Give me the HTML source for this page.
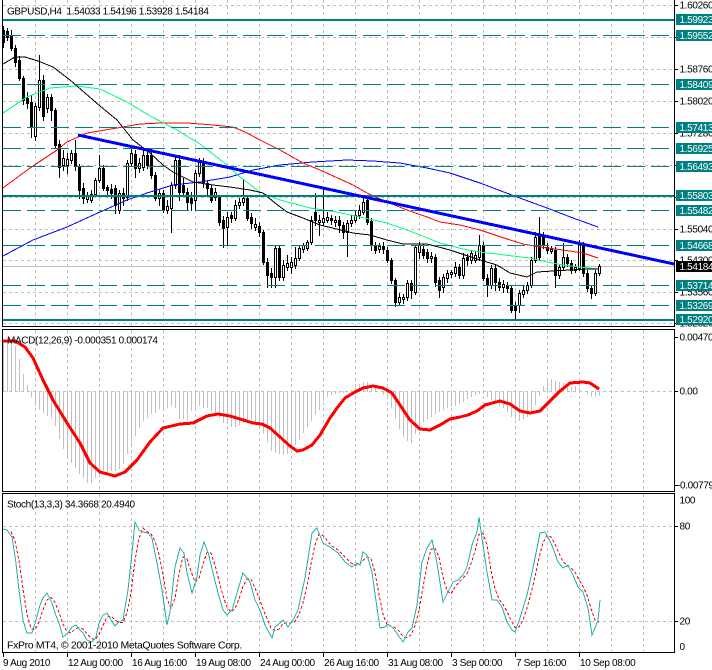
<!DOCTYPE html>
<html><head><meta charset="utf-8">
<style>
html,body{margin:0;padding:0;background:#fff}
body{width:712px;height:670px;overflow:hidden}
svg{display:block}
text{font-family:"Liberation Sans",Arial,sans-serif;font-size:10px;letter-spacing:-0.35px;fill:#000}
text.w{fill:#fff}
text.big{font-size:10.5px}
</style></head><body>
<svg id="s" width="712" height="670" viewBox="0 0 712 670" xmlns="http://www.w3.org/2000/svg">
<rect width="712" height="670" fill="#fff"/>
<g id="grid" fill="none" stroke="#c0c0c0" stroke-width="1" stroke-dasharray="3,3" shape-rendering="crispEdges"></g>
<g id="bid" shape-rendering="crispEdges"><line x1="3" y1="266.5" x2="674" y2="266.5" stroke="#c0c0c0"/></g>
<g id="cand" shape-rendering="crispEdges"></g>
<g id="ma" fill="none" stroke-width="1" shape-rendering="crispEdges"></g>
<g id="obj" shape-rendering="crispEdges"></g>
<g id="macd" shape-rendering="crispEdges"></g>
<g id="sto" fill="none" shape-rendering="crispEdges"></g>
<g id="frame" fill="none" stroke="#000" stroke-width="1" shape-rendering="crispEdges">
 <path d="M2.5 0V326.5H674.5V0"/>
 <rect x="2.5" y="329.5" width="672" height="162"/>
 <rect x="2.5" y="493.5" width="672" height="159"/>
 <path d="M675 5.5h3M675 37.5h3M675 69.5h3M675 101.5h3M675 133.5h3M675 165.5h3M675 197.5h3M675 229.5h3M675 260.5h3M675 292.5h3M675 323.5h3M675 337.5h3M675 391.5h3M675 485.5h3M675 526.5h3M675 621.5h3"/>
 <path d="M3.5 653v4M67.5 653v4M131.5 653v4M195.5 653v4M259.5 653v4M323.5 653v4M387.5 653v4M451.5 653v4M515.5 653v4M579.5 653v4"/>
</g>

<!-- axis labels main -->
<text x="679.5" y="8.5">1.60260</text>
<text x="679.5" y="40.5">1.59510</text>
<text x="679.5" y="72.5">1.58760</text>
<text x="679.5" y="104.5">1.58020</text>
<text x="679.5" y="136.5">1.57280</text>
<text x="679.5" y="168.5">1.56540</text>
<text x="679.5" y="200.5">1.55800</text>
<text x="679.5" y="232.5">1.55040</text>
<text x="679.5" y="263.5">1.54300</text>
<text x="679.5" y="295.5">1.53560</text>
<text x="679.5" y="326.5">1.52820</text>

<!-- level label boxes -->
<g shape-rendering="crispEdges">
<rect x="676" y="14" width="36" height="11" fill="#008080"/>
<rect x="676" y="30" width="36" height="11" fill="#008080"/>
<rect x="676" y="79" width="36" height="11" fill="#008080"/>
<rect x="676" y="122" width="36" height="11" fill="#008080"/>
<rect x="676" y="143" width="36" height="11" fill="#008080"/>
<rect x="676" y="161" width="36" height="11" fill="#008080"/>
<rect x="676" y="190" width="36" height="11" fill="#008080"/>
<rect x="676" y="205" width="36" height="11" fill="#008080"/>
<rect x="676" y="240" width="36" height="11" fill="#008080"/>
<rect x="676" y="261" width="36" height="11" fill="#000"/>
<rect x="676" y="280" width="36" height="11" fill="#008080"/>
<rect x="676" y="300" width="36" height="11" fill="#008080"/>
<rect x="676" y="314" width="36" height="11" fill="#008080"/>
</g>
<text class="w" x="679.5" y="23">1.59923</text>
<text class="w" x="679.5" y="39">1.59552</text>
<text class="w" x="679.5" y="88">1.58409</text>
<text class="w" x="679.5" y="131">1.57413</text>
<text class="w" x="679.5" y="152">1.56925</text>
<text class="w" x="679.5" y="170">1.56493</text>
<text class="w" x="679.5" y="199">1.55803</text>
<text class="w" x="679.5" y="214">1.55482</text>
<text class="w" x="679.5" y="249">1.54668</text>
<text class="w" x="679.5" y="270">1.54184</text>
<text class="w" x="679.5" y="289">1.53714</text>
<text class="w" x="679.5" y="309">1.53269</text>
<text class="w" x="679.5" y="323">1.52920</text>

<!-- MACD axis -->
<text x="679.5" y="340.5">0.004700</text>
<text x="679.5" y="394.5">0.00</text>
<text x="677" y="488.5">-0.007795</text>
<!-- Stoch axis -->
<text x="679.5" y="503.5">100</text>
<text x="679.5" y="529.5">80</text>
<text x="679.5" y="624.5">20</text>
<text x="679.5" y="650">0</text>

<!-- pane titles -->
<text x="7" y="14.5" style="white-space:pre">GBPUSD,H4  1.54033 1.54196 1.53928 1.54184</text>
<text x="7" y="343.5">MACD(12,26,9) -0.000351 0.000174</text>
<text x="7" y="507.5">Stoch(13,3,3) 34.3668 20.4940</text>
<text class="big" x="7" y="648.5">FxPro MT4, © 2001-2010 MetaQuotes Software Corp.</text>

<!-- time axis -->
<text x="3" y="666">9 Aug 2010</text>
<text x="68" y="666">12 Aug 00:00</text>
<text x="132" y="666">16 Aug 16:00</text>
<text x="196" y="666">19 Aug 08:00</text>
<text x="260" y="666">24 Aug 00:00</text>
<text x="324" y="666">26 Aug 16:00</text>
<text x="388" y="666">31 Aug 08:00</text>
<text x="452" y="666">3 Sep 00:00</text>
<text x="516" y="666">7 Sep 16:00</text>
<text x="580" y="666">10 Sep 08:00</text>
</svg>
<script>
(function(){
const NS='http://www.w3.org/2000/svg';
function E(p,t,a){const e=document.createElementNS(NS,t);for(const k in a)e.setAttribute(k,a[k]);p.appendChild(e);return e;}
const G=id=>document.getElementById(id);
function interp(P,x){if(x<=P[0][0])return P[0][1];for(let i=1;i<P.length;i++){if(x<=P[i][0]){const a=P[i-1],b=P[i];return a[1]+(b[1]-a[1])*(x-a[0])/(b[0]-a[0]);}}return P[P.length-1][1];}
const pts=P=>P.map(p=>p[0]+','+p[1]).join(' ');

// grid
let d='';
for(let k=1;k<=20;k++){const x=3.5+32*k;d+=`M${x} 0V326M${x} 330V491M${x} 494V652`;}
[5,37,69,101,133,165,197,229,260,292,323].forEach(y=>d+=`M3 ${y+.5}H674`);
d+='M3 391.5H674M3 526.5H674M3 621.5H674';
E(G('grid'),'path',{d:d});

// candles [o,c,h,l]
const C=[[30,42,26,47],[31,37,28,40],[35,48,30,50],[48,62,45,66],[60,78,56,80],[78,100,76,104],[98,103,92,108],[102,127,95,137],[136,106,103,140],[107,80,55,110],
[80,116,75,120],[108,97,94,112],[97,110,94,120],[110,145,108,148],[144,167,140,177],[165,158,150,170],[165,159,153,173],[160,153,150,163],[153,166,140,170],[166,190,164,198],
[188,198,183,203],[199,196,192,202],[200,194,190,202],[194,180,178,196],[180,168,155,182],[168,188,165,190],[187,190,185,195],[189,193,184,198],[188,205,185,213],[210,193,190,213],
[193,198,188,205],[197,163,160,200],[163,153,148,166],[154,168,150,177],[168,163,158,172],[167,155,148,170],[155,165,150,168],[155,175,148,178],[175,198,172,200],[198,193,190,205],
[193,210,190,212],[210,206,200,213],[208,185,182,232],[185,160,155,188],[160,192,155,200],[185,192,178,195],[192,202,188,210],[198,203,192,210],[200,173,170,210],[173,162,158,176],
[162,182,158,187],[183,188,180,196],[188,200,185,202],[197,192,188,200],[197,222,195,225],[220,228,216,247],[227,217,212,245],[215,218,212,222],[218,205,200,220],[205,202,198,208],
[202,198,180,205],[198,218,195,220],[217,223,213,228],[227,224,218,230],[226,232,222,236],[232,262,230,264],[262,275,258,287],[273,277,268,287],[277,248,246,287],[248,277,245,280],
[277,265,260,280],[267,263,255,270],[267,262,257,273],[265,258,247,268],[258,248,245,260],[249,245,243,252],[248,242,240,250],[242,220,216,244],[212,220,193,225],[222,220,215,235],
[222,218,188,225],[220,217,212,222],[218,220,215,224],[222,220,216,226],[220,225,216,232],[225,232,222,238],[232,223,220,256],[223,220,215,226],[220,215,210,222],[215,210,205,218],
[212,202,198,214],[200,222,197,224],[221,245,218,250],[245,250,242,253],[249,246,243,252],[246,249,242,253],[250,260,247,262],[260,280,258,283],[280,302,278,306],[302,297,293,305],
[299,297,294,303],[297,283,280,300],[283,290,280,298],[292,247,245,294],[252,245,242,258],[249,255,244,258],[252,258,249,262],[258,256,252,262],[257,282,254,286],[280,290,277,297],
[287,277,274,292],[278,273,270,282],[274,272,270,277],[273,267,262,276],[267,275,264,278],[275,258,253,278],[257,260,254,265],[260,253,250,263],[260,255,251,262],[257,245,235,260],
[245,278,242,280],[278,285,274,296],[285,268,265,288],[268,282,265,290],[282,287,278,290],[287,284,280,292],[285,288,282,292],[288,310,285,312],[305,310,302,318],[305,293,290,312],
[294,290,286,297],[290,285,282,293],[285,260,257,287],[260,237,232,262],[236,257,217,260],[235,245,232,248],[247,250,243,253],[251,249,246,253],[250,275,247,287],[275,267,264,278],
[267,257,243,270],[257,263,254,266],[263,270,260,273],[270,267,264,272],[268,245,240,270],[245,273,242,276],[273,288,270,291],[288,293,286,298],[293,273,270,295],[273,266,264,275]];
const gc=G('cand');
C.forEach((b,i)=>{const x=3+4*i;const o=b[0],c=b[1],h=b[2],l=b[3];
 E(gc,'line',{x1:x+.5,y1:h,x2:x+.5,y2:l+1,stroke:'#000'});
 const t=Math.min(o,c),bt=Math.max(o,c);
 E(gc,'rect',{x:x-1,y:t,width:3,height:Math.max(1,bt-t+1),fill:'#000'});
 if(c<o&&bt-t>=2)E(gc,'rect',{x:x,y:t+1,width:1,height:bt-t-1,fill:'#fff'});
});

// moving averages
const blue=[[3,256],[33,240],[67,227],[100,212],[127,200],[147,193],[173,185],[200,182],[230,177],[253,170],[280,165],[313,162],[347,160],[373,161],[400,163],[427,168],[450,173],[480,183],[517,197],[547,208],[573,218],[598,227]];
const red=[[3,188],[30,168],[57,150],[67,142],[87,133],[117,128],[140,124],[160,123],[187,123],[213,125],[233,127],[245,132],[260,140],[280,150],[303,163],[320,170],[353,185],[367,193],[387,202],[407,210],[427,217],[440,222],[460,225],[480,230],[507,239],[523,244],[540,247],[563,250],[583,253],[598,258]];
const green=[[3,113],[27,97],[50,88],[77,86],[100,89],[127,102],[150,116],[177,130],[200,144],[227,165],[240,177],[260,192],[280,200],[310,208],[337,212],[360,217],[387,223],[407,230],[420,235],[440,243],[463,249],[480,252],[497,254],[513,256],[530,258],[547,262],[563,265],[580,267],[598,269]];
const black=[[3,64],[15,57],[25,57],[38,61],[53,67],[70,80],[85,93],[100,106],[117,120],[133,140],[150,153],[163,165],[173,172],[193,182],[213,185],[230,187],[250,190],[263,193],[275,203],[287,212],[303,218],[320,225],[353,233],[370,235],[387,240],[403,244],[427,244],[450,250],[465,255],[480,260],[497,265],[510,273],[527,277],[537,272],[553,271],[570,270],[587,269],[598,269]];
const gm=G('ma');
[['#0000ff',blue],['#ff0000',red],['#00ff7f',green],['#000000',black]].forEach(m=>E(gm,'polyline',{points:pts(m[1]),stroke:m[0]}));

// objects: level lines + trendline
const go=G('obj');
[35,84,127,148,166,210,245,285,305].forEach(y=>E(go,'line',{x1:3,y1:y+.5,x2:674,y2:y+.5,stroke:'#008080','stroke-dasharray':'18,6'}));
[19,195,319].forEach(y=>E(go,'rect',{x:3,y:y,width:671,height:2,fill:'#008080'}));
E(go,'line',{x1:78,y1:135,x2:674,y2:264,stroke:'#0000ff','stroke-width':3});

// MACD
const H=[[3,340],[7,340],[12,343],[16,347],[20,363],[24,377],[28,387],[32,399],[36,407],[40,410],[44,412],[47,415],[52,417],[56,427],[59,438],[63,448],[68,457],[72,463],[76,468],[79,473],[83,477],[87,482],[91,482],[95,477],[99,473],[103,470],[107,472],[112,470],[115,470],[119,468],[123,463],[127,453],[131,445],[135,435],[139,427],[143,420],[147,417],[151,413],[155,412],[159,408],[163,407],[167,407],[171,405],[175,407],[179,418],[183,418],[187,420],[191,410],[195,408],[199,405],[203,407],[207,407],[211,410],[215,415],[219,417],[223,422],[227,423],[232,427],[236,425],[240,423],[244,422],[248,420],[252,419],[256,423],[260,427],[264,435],[268,443],[272,452],[276,452],[280,453],[284,454],[288,452],[292,447],[296,443],[300,438],[304,430],[308,425],[312,418],[316,413],[320,407],[324,398],[328,395],[332,393],[336,393],[340,392],[344,392],[348,391],[352,390],[356,387],[360,383],[364,381],[368,382],[372,387],[376,388],[380,392],[384,395],[388,398],[392,410],[396,420],[400,430],[404,438],[408,440],[412,442],[416,430],[420,423],[424,420],[428,417],[432,415],[436,412],[440,410],[444,408],[448,407],[452,405],[456,405],[460,402],[464,400],[468,397],[472,395],[476,393],[480,393],[484,393],[488,397],[492,400],[496,403],[500,405],[504,408],[508,412],[512,417],[516,418],[520,420],[524,417],[528,415],[532,410],[536,402],[540,392],[544,384],[548,380],[552,379],[556,381],[560,382],[564,383],[568,388],[572,387],[576,386],[580,389],[584,391],[588,393],[592,397],[596,395],[600,395]];
const M=[[3,341],[15,341],[25,347],[33,358],[43,380],[53,400],[67,423],[80,443],[90,463],[100,472],[115,476],[125,472],[137,460],[150,442],[163,428],[180,424],[193,423],[207,416],[218,414],[230,416],[240,419],[253,423],[262,424],[270,428],[280,437],[290,446],[297,451],[303,450],[312,445],[320,435],[330,418],[337,408],[345,398],[355,392],[363,388],[373,386],[383,388],[392,393],[400,405],[410,420],[420,429],[430,430],[440,425],[450,419],[460,417],[468,415],[477,411],[485,405],[500,401],[510,404],[520,411],[530,413],[540,411],[550,401],[560,391],[570,383],[583,382],[590,383],[599,389]];
const gmd=G('macd');
let hd='';for(let i=0;i<150;i++){const x=3+4*i;const y=Math.round(interp(H,x));if(y!==391)hd+=`M${x+.5} ${y>391?391:392}V${y>391?y+1:y}`;}
E(gmd,'path',{d:hd,stroke:'#c0c0c0','stroke-width':1,fill:'none'});
E(gmd,'polyline',{points:pts(M),stroke:'#ff0000','stroke-width':3,fill:'none','stroke-linejoin':'round'});

// Stochastic
const S=[[3,529],[7,530],[12,537],[16,563],[19,590],[23,620],[27,633],[32,633],[36,620],[40,605],[43,598],[47,593],[52,603],[55,613],[59,623],[63,637],[68,633],[72,627],[76,625],[80,630],[83,633],[87,640],[92,642],[96,637],[99,623],[103,615],[107,613],[111,620],[115,626],[119,622],[123,620],[128,590],[132,553],[135,522],[139,530],[143,532],[148,533],[152,538],[157,563],[162,590],[167,625],[170,612],[175,567],[180,548],[184,553],[187,573],[192,593],[197,577],[200,555],[204,542],[208,552],[213,573],[218,593],[223,610],[227,615],[232,610],[237,593],[243,573],[250,582],[255,600],[260,610],[265,625],[272,638],[275,627],[280,623],[283,620],[288,627],[293,620],[298,610],[305,578],[312,533],[317,528],[323,543],[330,547],[338,553],[345,562],[352,567],[357,563],[360,565],[363,552],[367,555],[372,572],[377,608],[380,628],[385,627],[388,624],[393,628],[398,635],[403,642],[408,632],[412,628],[417,605],[422,562],[427,548],[432,540],[437,563],[443,602],[448,592],[453,582],[458,580],[463,575],[467,567],[472,545],[477,532],[479,517],[483,545],[487,572],[492,600],[497,600],[502,607],[507,622],[512,630],[515,632],[520,618],[527,595],[533,568],[540,533],[545,532],[548,537],[553,548],[558,562],[563,568],[568,565],[573,575],[578,587],[583,592],[588,608],[592,635],[595,628],[598,620],[600,600]];
const gs=G('sto');
const vs=[];for(let i=0;i<150;i++)vs.push(interp(S,3+4*i));
const sp=[];for(let i=2;i<150;i++)sp.push([3+4*i,((vs[i]+vs[i-1]+vs[i-2])/3).toFixed(1)]);
E(gs,'polyline',{points:pts(sp),stroke:'#ff0000','stroke-width':1,'stroke-dasharray':'3,2'});
E(gs,'polyline',{points:pts(S),stroke:'#20b2aa','stroke-width':1});
})();
</script>
</body></html>
